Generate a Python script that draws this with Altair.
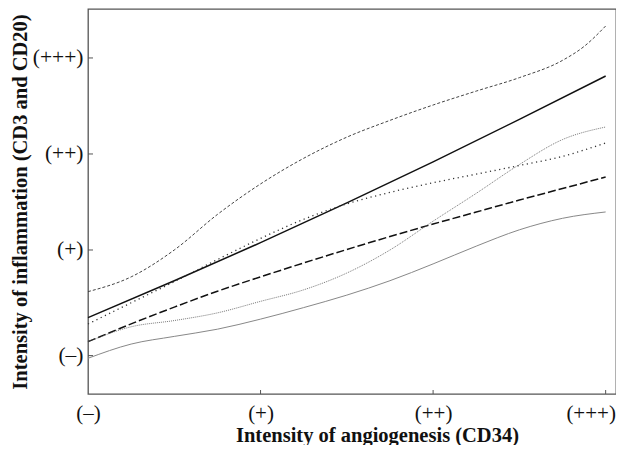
import altair as alt
import pandas as pd

# Axis ticks and labels
x_ticks = [0, 1, 2, 3]
x_labels = ["(–)", "(+)", "(++)", "(+++)"]
y_ticks = [-0.1, 1, 2, 3]
y_labels = ["(–)", "(+)", "(++)", "(+++)"]

xs_even = [0, 0.25, 0.5, 0.75, 1.0, 1.25, 1.5, 1.75, 2.0, 2.25, 2.5, 2.75, 3.0]

a_x = [0, 0.25, 0.5, 0.75, 1.0, 1.25, 1.5, 1.75, 2.0, 2.25, 2.5, 2.75, 2.875, 3.0]
a_y = [0.566, 0.72, 1.0, 1.37, 1.688, 1.955, 2.175, 2.35, 2.51, 2.655, 2.795, 2.975, 3.12, 3.333]

b_x = [0, 0.5, 1.0, 1.5, 2.0, 2.5, 3.0]
b_y = [0.295, 0.68, 1.076, 1.49, 1.917, 2.36, 2.812]

c_y = [0.229, 0.45, 0.67, 0.90, 1.12, 1.32, 1.48, 1.60, 1.70, 1.79, 1.88, 1.975, 2.115]
d_y = [0.045, 0.23, 0.405, 0.57, 0.72, 0.865, 1.005, 1.14, 1.27, 1.395, 1.52, 1.64, 1.76]
e_y = [0.045, 0.20, 0.265, 0.345, 0.465, 0.585, 0.76, 1.00, 1.30, 1.59, 1.89, 2.15, 2.281]
f_y = [-0.128, 0.02, 0.10, 0.175, 0.28, 0.40, 0.53, 0.68, 0.855, 1.04, 1.21, 1.33, 1.396]

series = [
    ("A", a_x, a_y, dict(color="#444444", strokeWidth=1.0, strokeDash=[3, 2])),
    ("B", b_x, b_y, dict(color="#111111", strokeWidth=1.5)),
    ("C", xs_even, c_y, dict(color="#333333", strokeWidth=1.3, strokeDash=[1.2, 3.5])),
    ("D", xs_even, d_y, dict(color="#111111", strokeWidth=1.5, strokeDash=[8, 3])),
    ("E", xs_even, e_y, dict(color="#555555", strokeWidth=0.8, strokeDash=[1, 1])),
    ("F", xs_even, f_y, dict(color="#888888", strokeWidth=1.0)),
]

def label_expr(vals, labs):
    return "({" + ",".join(f"'{v}':'{l}'" for v, l in zip(vals, labs)) + "})[datum.value]"

FONT = "Liberation Serif"

x_enc = alt.X(
    "x:Q",
    scale=alt.Scale(domain=[0, 3.06], nice=False, zero=False),
    axis=alt.Axis(
        values=x_ticks,
        labelExpr=label_expr(x_ticks, x_labels),
        title="Intensity of angiogenesis (CD34)",
        titleX=289,
        titleY=47,
        titleBaseline="alphabetic",
        titleFont=FONT,
        titleFontSize=20.5,
        titleFontWeight="bold",
        titleColor="#111",
        labelFont=FONT,
        labelFontSize=21,
        labelColor="#111",
        labelPadding=8,
        labelFlush=False,
        labelOverlap=False,
        labelOffset={"condition": {"test": "datum.value == 3", "value": -15}, "value": 0},
        ticks=False,
        domain=False,
        grid=False,
    ),
)
y_enc = alt.Y(
    "y:Q",
    scale=alt.Scale(domain=[-0.5, 3.51], nice=False, zero=False),
    axis=alt.Axis(
        values=y_ticks,
        labelExpr=label_expr(y_ticks, y_labels),
        title="Intensity of inflammation (CD3 and CD20)",
        titleX=-62,
        titleBaseline="alphabetic",
        titleFont=FONT,
        titleFontSize=20.5,
        titleFontWeight="bold",
        titleColor="#111",
        labelFont=FONT,
        labelFontSize=21.5,
        labelColor="#111",
        labelPadding=5,
        labelOverlap=False,
        ticks=False,
        domain=False,
        grid=False,
    ),
)

layers = []
for name, xs, ys, st in series:
    df = pd.DataFrame({"x": xs, "y": ys})
    layers.append(
        alt.Chart(df).mark_line(interpolate="monotone", **st).encode(x=x_enc, y=y_enc)
    )

# Inward tick marks
xt = pd.DataFrame({"x": x_ticks[1:]})
layers.append(
    alt.Chart(xt).mark_rule(color="#555", strokeWidth=1).encode(
        x=alt.X("x:Q"), y=alt.value(385), y2=alt.value(381)
    )
)
yt = pd.DataFrame({"y": y_ticks})
layers.append(
    alt.Chart(yt).mark_rule(color="#555", strokeWidth=1).encode(
        y=alt.Y("y:Q"), x=alt.value(0), x2=alt.value(5)
    )
)

chart = (
    alt.layer(*layers)
    .properties(
        width=528,
        height=385,
        autosize=alt.AutoSizeParams(type="none"),
        padding={"left": 80, "top": 1, "right": 0, "bottom": 51},
        background="white",
    )
    .configure_view(stroke="#555555", strokeWidth=1.3)
)

chart.save("out.html", embed_options={"renderer": "svg", "actions": False})
